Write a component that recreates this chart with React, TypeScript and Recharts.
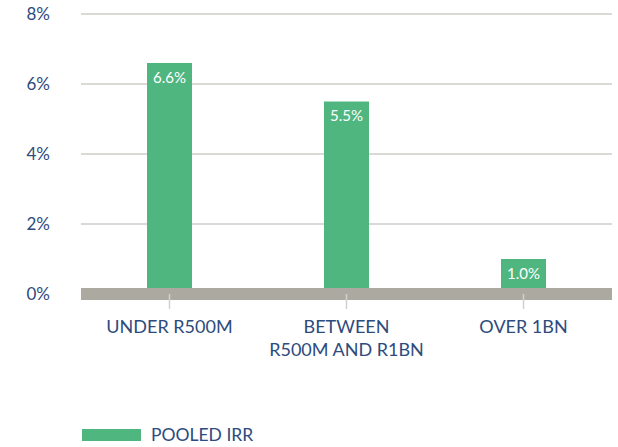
import React from "react";
import { BarChart, Bar, XAxis, YAxis, CartesianGrid, LabelList } from "recharts";

const categories = ["UNDER R500M", "BETWEEN\nR500M AND R1BN", "OVER 1BN"];
const pooledIrr = [6.6, 5.5, 1.0];
const yTicks = [0, 2, 4, 6, 8];
const seriesName = "POOLED IRR";

const GREEN = "#50b67f";
const BLUE = "#2d4b7d";
const GRAY = "#aba9a0";
const FONT = "Lato, 'Noto Sans', sans-serif";

const data = categories.map((c, i) => ({ name: c, value: pooledIrr[i] }));

const XTick = (props: any) => {
  const { x, y, payload } = props;
  const lines = String(payload.value).split("\n");
  return (
    <text x={x} y={y} textAnchor="middle" fill={BLUE} fontSize={18} fontFamily={FONT}>
      {lines.map((l, i) => (
        <tspan key={i} x={x} y={y + 12 + i * 22.5}>
          {l}
        </tspan>
      ))}
    </text>
  );
};

const BarLabel = (props: any) => {
  const { x, y, width, value } = props;
  return (
    <text x={x + width / 2} y={y + 19.5} textAnchor="middle" fill="#ffffff" fontSize={15} fontFamily={FONT}>
      {`${Number(value).toFixed(1)}%`}
    </text>
  );
};

export default function App() {
  return (
    <div style={{ position: "absolute", left: 0, top: 0, width: 618, height: 447, background: "#fff" }}>
      <BarChart
        width={618}
        height={447}
        data={data}
        margin={{ top: 14, right: 6, bottom: 0, left: 0 }}
      >
        <CartesianGrid vertical={false} stroke="#b5b3ab" strokeWidth={1} />
        <XAxis
          dataKey="name"
          height={153}
          axisLine={{ stroke: GRAY, strokeWidth: 12 }}
          tickLine={{ stroke: "#d0d0d0", strokeWidth: 1.5 }}
          tickSize={15}
          tickMargin={12}
          tick={<XTick />}
          interval={0}
        />
        <YAxis
          width={81}
          domain={[0, 8]}
          ticks={yTicks}
          axisLine={false}
          tickLine={false}
          tickSize={0}
          tickMargin={31}
          tickFormatter={(v: number) => `${v}%`}
          tick={{ fill: BLUE, fontSize: 17, fontFamily: FONT }}
        />
        <Bar dataKey="value" name={seriesName} fill={GREEN} barSize={45} isAnimationActive={false}>
          <LabelList dataKey="value" content={<BarLabel />} />
        </Bar>
      </BarChart>
      <div
        style={{
          position: "absolute",
          left: 82,
          top: 424,
          display: "flex",
          alignItems: "center",
          fontFamily: FONT,
          fontSize: 17.5,
          color: BLUE,
          lineHeight: "22px",
        }}
      >
        <span style={{ display: "inline-block", width: 59, height: 12, background: GREEN, marginRight: 10 }} />
        <span>{seriesName}</span>
      </div>
    </div>
  );
}
